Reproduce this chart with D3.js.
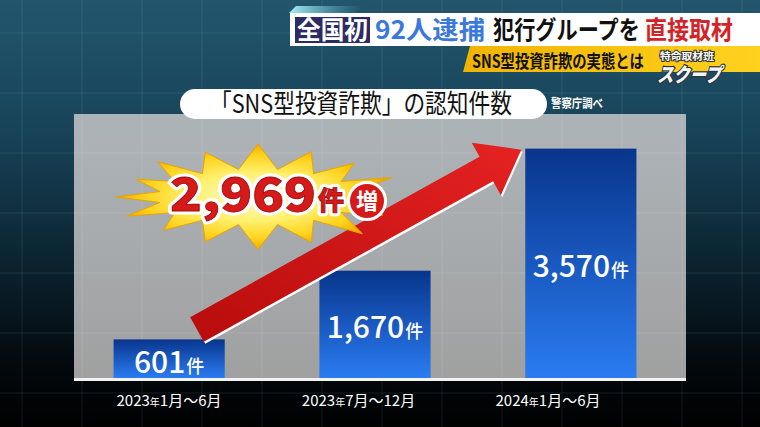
<!DOCTYPE html>
<html><head><meta charset="utf-8">
<script src="https://cdn.jsdelivr.net/npm/d3@7"></script>
<style>body{margin:0;background:#000;overflow:hidden}svg{display:block}</style>
</head><body>
<script>
// ---- data ----
const categories = ["2023年1月〜6月", "2023年7月〜12月", "2024年1月〜6月"];
const values = [601, 1670, 3570];
const unit = "件";
const yTicks = [0, 4000]; // value domain
const title = "「SNS型投資詐欺」の認知件数";
const source = "警察庁調べ";
const headline = ["全国初", "92人逮捕", "犯行グループを", "直接取材"];
const subhead = "SNS型投資詐欺の実態とは";
const logoSmall = "特命取材班";
const logoBig = "スクープ";
const increaseMark = "増";

const W = 760, H = 427;
const FONT = "'Noto Sans CJK JP','Noto Sans',sans-serif";
const svg = d3.select("body").append("svg").attr("width", W).attr("height", H)
  .style("font-family", FONT);
const defs = svg.append("defs");

function lin(id, x1, y1, x2, y2, stops) {
  const g = defs.append("linearGradient").attr("id", id)
    .attr("x1", x1).attr("y1", y1).attr("x2", x2).attr("y2", y2);
  stops.forEach(s => g.append("stop").attr("offset", s[0]).attr("stop-color", s[1]).attr("stop-opacity", s[2] ?? 1));
}
lin("bg", 0, 0, 0, 1, [[0, "#22566d"], [0.3, "#184459"], [0.6, "#0c2532"], [0.85, "#03090d"], [1, "#000"]]);
lin("panel", 0, 0, 0, 1, [[0, "#adb4b8"], [1, "#a0a0a0"]]);
lin("bar", 0, 0, 0, 1, [[0, "#08358c"], [1, "#2a7cf2"]]);
lin("arrowG", 0, 1, 1, 0, [[0, "#b80c0c"], [1, "#e52222"]]);
lin("yel", 0, 0, 1, 0, [[0, "#f0b400"], [1, "#ffd21f"]]);
lin("cyan", 0, 0, 1, 0, [[0, "#a8eef5"], [1, "#5fb7c8", 0]]);
const rg = defs.append("radialGradient").attr("id", "burst");
[[0, "#fffbd8"], [0.45, "#fff170"], [0.8, "#ffd21a"], [1, "#f0a800"]]
  .forEach(s => rg.append("stop").attr("offset", s[0]).attr("stop-color", s[1]));

// fitted text: natural size measured, then horizontally scaled to the target width
function fitText(parent, str, x, y, width, size, attrs) {
  const t = parent.append("text").attr("font-size", size).text(str);
  Object.entries(attrs || {}).forEach(([k, v]) => { if (k !== "skew") t.attr(k, v); });
  const w0 = t.node().getComputedTextLength();
  t.attr("transform", `translate(${x},${y}) ${attrs && attrs.skew ? `skewX(${attrs.skew})` : ""} scale(${width / w0},1)`);
  return t;
}

// ---- background + grid ----
svg.append("rect").attr("width", W).attr("height", H).attr("fill", "url(#bg)");
const gx = d3.range(22, W, 60), gy = d3.range(33, H, 60);
const grid = svg.append("g").attr("stroke", "#8cc8dc").attr("stroke-opacity", 0.13);
gx.forEach(x => grid.append("line").attr("x1", x).attr("x2", x).attr("y1", 0).attr("y2", H));
gy.forEach(y => grid.append("line").attr("y1", y).attr("y2", y).attr("x1", 0).attr("x2", W));

// ---- panel ----
const P = {x0: 74, x1: 686, y0: 114, y1: 378};
svg.append("rect").attr("x", P.x0).attr("y", P.y0).attr("width", P.x1 - P.x0).attr("height", P.y1 - P.y0)
  .attr("fill", "url(#panel)");
const pg = svg.append("g").attr("stroke", "#ffffff").attr("stroke-opacity", 0.12);
gx.filter(x => x > P.x0 && x < P.x1).forEach(x => pg.append("line").attr("x1", x).attr("x2", x).attr("y1", P.y0).attr("y2", P.y1));
gy.filter(y => y > P.y0 && y < P.y1).forEach(y => pg.append("line").attr("y1", y).attr("y2", y).attr("x1", P.x0).attr("x2", P.x1));

// ---- scales ----
const x = d3.scaleBand().domain(categories).range([93, 657]).paddingInner(0.46).paddingOuter(0.1);
const y = d3.scaleLinear().domain(d3.extent(yTicks)).range([P.y1, 121]);
const xl = d3.scalePoint().domain(categories).range([169, 548]);
const bw = x.bandwidth();

// ---- bars ----
svg.append("g").selectAll("rect").data(values).join("rect")
  .attr("x", (d, i) => x(categories[i])).attr("y", d => y(d))
  .attr("width", bw).attr("height", d => y(0) - y(d)).attr("fill", "url(#bar)");

// value labels
const vl = svg.append("g").attr("fill", "#fff").attr("text-anchor", "middle");
values.forEach((v, i) => {
  const t = vl.append("text").attr("x", x(categories[i]) + bw / 2)
    .attr("y", (y(v) + y(0)) / 2 + 14).attr("font-weight", 500);
  t.append("tspan").attr("font-size", 30).text(d3.format(",")(v));
  t.append("tspan").attr("font-size", 18).attr("dx", 1).text(unit);
});

// baseline
svg.append("rect").attr("x", P.x0).attr("y", P.y1).attr("width", P.x1 - P.x0).attr("height", 3).attr("fill", "#f2f2f2");

// category labels
const cl = svg.append("g").attr("fill", "#fff").attr("text-anchor", "middle");
categories.forEach(c => {
  const t = cl.append("text").attr("x", xl(c)).attr("y", 406).attr("font-size", 15);
  const runs = c.match(/年|[^年]+/g);
  runs.forEach(r => t.append("tspan").attr("font-size", r === "年" ? 10 : 15).text(r));
});

// ---- arrow (from first bar top to last bar top) ----
const tail = [x(categories[0]) + bw * 0.75, y(values[0]) - 10];
const tip = [x(categories[2]) - 4, y(values[2]) + 1];
const dx = tip[0] - tail[0], dy = tip[1] - tail[1], len = Math.hypot(dx, dy);
const u = [dx / len, dy / len], n = [-u[1], u[0]];
const w = 14, L = 40, HW = 30;
const neck = [tip[0] - u[0] * L, tip[1] - u[1] * L];
const pt = (p, k) => [p[0] + n[0] * k, p[1] + n[1] * k];
const arrowPts = [pt(tail, w), pt(neck, w), pt(neck, HW), tip, pt(neck, -HW), pt(neck, -w), pt(tail, -w)];
const line = d3.line();
svg.append("path").attr("d", line(arrowPts) + "Z").attr("fill", "#fff").attr("transform", "translate(1.5,2)");
svg.append("path").attr("d", line(arrowPts) + "Z").attr("fill", "url(#arrowG)");

// ---- starburst ----
const B = {cx: 258, cy: 197, rxo: 142, ryo: 50, rxi: 100, ryi: 28};
const spikeLen = [1, 0.93, 1.0, 0.97, 1.06, 0.98, 0.96, 1.02, 0.92, 0.95, 1.04, 0.98, 1.05, 0.97, 0.94, 1.0];
const N = spikeLen.length;
const bpts = d3.range(2 * N).map(i => {
  const a = Math.PI + i * Math.PI / N;
  const k = i % 2 === 0 ? spikeLen[i / 2] : 1;
  const rx = i % 2 === 0 ? B.rxo * k : B.rxi, ry = i % 2 === 0 ? B.ryo * k : B.ryi;
  return [B.cx + rx * Math.cos(a), B.cy + ry * Math.sin(a)];
});
svg.append("path").attr("d", line(bpts) + "Z").attr("fill", "url(#burst)")
  .attr("stroke", "#e9a400").attr("stroke-width", 1).attr("stroke-linejoin", "round");

const incr = values[values.length - 1] - values[0];
const bt = svg.append("g").attr("font-weight", 900);
[["#fff", "#fff", 7], ["#d61a1a", "#9a0a0a", 0.8]].forEach(([f, s, sw]) => {
  const a = {fill: f, stroke: s, "stroke-width": sw, "stroke-linejoin": "round"};
  fitText(bt, d3.format(",")(incr), 170, 211, 146, 46, a);
  fitText(bt, unit, 318, 210, 26, 26, a);
});
svg.append("circle").attr("cx", 367).attr("cy", 201).attr("r", 18.5).attr("fill", "#d61a1a")
  .attr("stroke", "#fff").attr("stroke-width", 3);
svg.append("text").attr("x", 367).attr("y", 209).attr("text-anchor", "middle").attr("font-size", 22)
  .attr("font-weight", 700).attr("fill", "#fff").text(increaseMark);

// ---- title pill ----
svg.append("rect").attr("x", 180).attr("y", 89).attr("width", 367).attr("height", 30).attr("rx", 15)
  .attr("fill", "#fff");
fitText(svg, title, 210, 113, 302, 26, {fill: "#111"});
fitText(svg, source, 551, 108, 52, 12.5, {fill: "#fff", "font-weight": 700});

// ---- header ----
svg.append("polygon").attr("points", "289,13 296,6 362,6 356,13").attr("fill", "url(#cyan)");
svg.append("rect").attr("x", 290).attr("y", 13).attr("width", 470).attr("height", 33).attr("fill", "#fff");
svg.append("rect").attr("x", 295).attr("y", 17).attr("width", 75).attr("height", 26).attr("fill", "#2c2c62");
const hcol = ["#fff", "#3a78dc", "#111", "#d42326"];
const hx = [[297, 71], [375, 110], [493, 147], [645, 88]];
headline.forEach((h, i) => fitText(svg, h, hx[i][0], 39, hx[i][1], 25, {"font-weight": 700, fill: hcol[i]}));
svg.append("polygon").attr("points", "470,46 760,46 760,72 463,72").attr("fill", "url(#yel)");
fitText(svg, subhead, 472, 68, 172, 18, {"font-weight": 700, fill: "#111"});
fitText(svg, logoSmall, 660, 60, 54, 10, {"font-weight": 700, fill: "#fff", stroke: "#333",
  "stroke-width": 2, "paint-order": "stroke"});
fitText(svg, logoBig, 657, 82, 64, 20, {"font-weight": 900, fill: "#f4f4f4", stroke: "#2a3440",
  "stroke-width": 2.5, "paint-order": "stroke", skew: -14});
</script>
</body></html>
